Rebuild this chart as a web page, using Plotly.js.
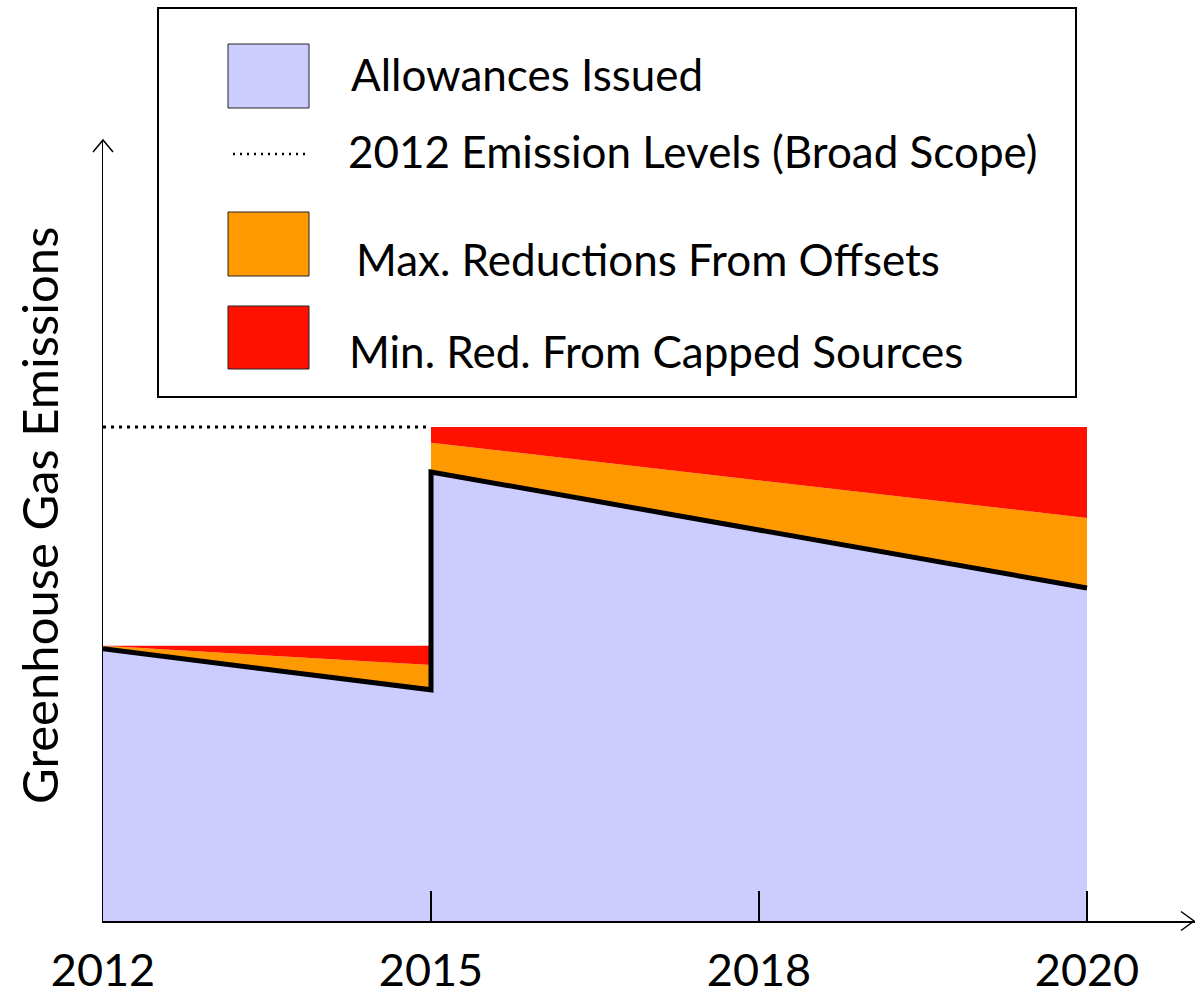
<!DOCTYPE html>
<html>
<head>
<meta charset="utf-8">
<script src="https://cdn.plot.ly/plotly-3.0.1.min.js"></script>
<style>
  html, body { margin: 0; padding: 0; background: #ffffff; }
  #chart { width: 1201px; height: 994px; }
</style>
</head>
<body>
<div id="chart"></div>
<script>
// ---- Data (arbitrary emission units; 100 = 2012 broad-scope level) ----
const years = ['2012', '2015', '2018', '2020'];

const phase1Years = ['2012', '2015'];
const phase1Allowances = [55.1, 46.8];
const phase1OffsetsTop = [55.7, 51.8];
const phase1CappedTop = [55.7, 55.7];

const phase2Years = ['2015', '2020'];
const phase2Allowances = [90.9, 67.4];
const phase2OffsetsTop = [96.8, 81.6];
const phase2CappedTop = [100, 100];

const broadScopeYears = ['2012', '2015'];
const broadScopeLevel = [100, 100];

const legendLabels = [
  'Allowances Issued',
  '2012 Emission Levels (Broad Scope)',
  'Max. Reductions From Offsets',
  'Min. Red. From Capped Sources'
];
const yTitle = 'Greenhouse Gas Emissions';

// ---- Styles ----
const cLav = '#CCCCFF', cOrange = '#FF9900', cRed = '#FF1100';
const FONT = 'Lato, "Open Sans", sans-serif';

// plot area geometry (px) -> paper helpers for decorations
const L = 103, T = 140, W = 1092, H = 781;
const px = x => (x - L) / W;
const py = y => (T + H - y) / H;

function area(x, y, fill, color) {
  return { x: x, y: y, type: 'scatter', mode: 'lines', fill: fill,
           fillcolor: color, line: { width: 0, color: color },
           hoverinfo: 'skip', showlegend: false };
}

const traces = [
  area(phase1Years, phase1Allowances, 'tozeroy', cLav),
  area(phase1Years, phase1OffsetsTop, 'tonexty', cOrange),
  area(phase1Years, phase1CappedTop, 'tonexty', cRed),
  area(phase2Years, phase2Allowances, 'tozeroy', cLav),
  area(phase2Years, phase2OffsetsTop, 'tonexty', cOrange),
  area(phase2Years, phase2CappedTop, 'tonexty', cRed),
  { x: phase1Years.concat(phase2Years), y: phase1Allowances.concat(phase2Allowances),
    type: 'scatter', mode: 'lines', line: { color: '#000', width: 5 },
    showlegend: false, hoverinfo: 'skip' },
  { x: broadScopeYears, y: broadScopeLevel, type: 'scatter', mode: 'lines',
    line: { color: '#000', width: 3, dash: '3px,5px' },
    showlegend: false, hoverinfo: 'skip' }
];

const shapes = [
  // legend frame
  { type: 'rect', xref: 'paper', yref: 'paper', x0: px(158), x1: px(1076), y0: py(397), y1: py(8),
    line: { color: '#000', width: 2 }, fillcolor: 'rgba(0,0,0,0)' },
  // swatches
  { type: 'rect', xref: 'paper', yref: 'paper', x0: px(228), x1: px(309), y0: py(108), y1: py(44),
    line: { color: '#222', width: 1 }, fillcolor: cLav },
  { type: 'line', xref: 'paper', yref: 'paper', x0: px(233), x1: px(305), y0: py(154), y1: py(154),
    line: { color: '#000', width: 2.5, dash: '2px,5px' } },
  { type: 'rect', xref: 'paper', yref: 'paper', x0: px(228), x1: px(309), y0: py(276), y1: py(212),
    line: { color: '#222', width: 1 }, fillcolor: cOrange },
  { type: 'rect', xref: 'paper', yref: 'paper', x0: px(228), x1: px(309), y0: py(369), y1: py(306),
    line: { color: '#222', width: 1 }, fillcolor: cRed },
  // axis arrow heads
  { type: 'path', xref: 'paper', yref: 'paper',
    path: `M ${px(93)},${py(152)} L ${px(103)},${py(140)} L ${px(113)},${py(152)}`,
    line: { color: '#000', width: 1.5 } },
  { type: 'path', xref: 'paper', yref: 'paper',
    path: `M ${px(1181)},${py(911.5)} L ${px(1194)},${py(921)} L ${px(1181)},${py(930.5)}`,
    line: { color: '#000', width: 1.5 } }
];

const legendPos = [[349, 74], [346, 151], [354, 259], [347, 351]];
const annotations = legendLabels.map((t, i) => ({
  text: t, xref: 'paper', yref: 'paper', x: px(legendPos[i][0]), y: py(legendPos[i][1]),
  xanchor: 'left', yanchor: 'middle', showarrow: false,
  font: { family: FONT, size: 44, color: '#000' }
}));
annotations.push({
  text: yTitle, xref: 'paper', yref: 'paper', x: px(39), y: py(516),
  xanchor: 'center', yanchor: 'middle', textangle: -90, showarrow: false,
  font: { family: FONT, size: 49, color: '#000' }
});

const layout = {
  width: 1201, height: 994,
  margin: { l: L, r: 1201 - L - W, t: T, b: 994 - T - H, pad: 0 },
  paper_bgcolor: '#fff', plot_bgcolor: '#fff',
  showlegend: false, hovermode: false,
  xaxis: {
    type: 'category', categoryorder: 'array', categoryarray: years,
    range: [0, W / 328], fixedrange: true,
    showline: true, linecolor: '#000', linewidth: 1.5,
    ticks: 'inside', ticklen: 30, tickwidth: 1.5, tickcolor: '#000',
    showgrid: false, zeroline: false,
    tickfont: { family: FONT, size: 45, color: '#000' },
    ticklabelstandoff: 9
  },
  yaxis: {
    range: [0, H / 4.94], fixedrange: true,
    showline: true, linecolor: '#000', linewidth: 1.5,
    ticks: '', showticklabels: false, showgrid: false, zeroline: false
  },
  shapes: shapes,
  annotations: annotations
};

Plotly.newPlot('chart', traces, layout, { displayModeBar: false, staticPlot: true });
</script>
</body>
</html>
